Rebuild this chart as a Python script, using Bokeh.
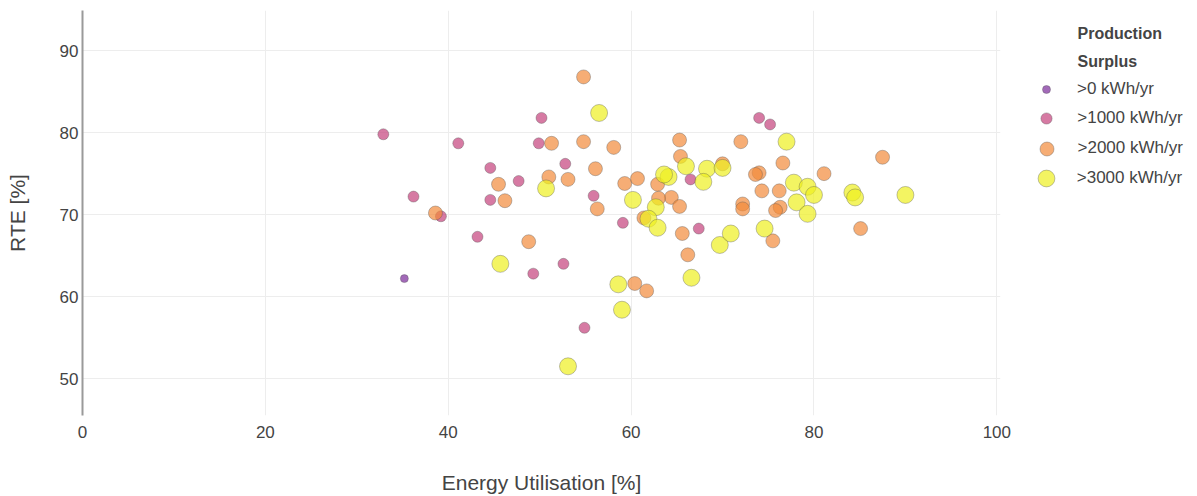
from bokeh.plotting import figure
from bokeh.layouts import row
from bokeh.models import Range1d, FixedTicker, Legend, LegendItem, Label
from bokeh.embed import file_html
from bokeh.resources import INLINE

# Energy utilisation [%] and round-trip efficiency [%] per production-surplus class
surplus_0_util = [35.2]
surplus_0_rte = [62.2]

surplus_1000_util = [32.9, 36.2, 41.1, 39.2, 43.2, 44.6, 44.6, 47.7, 50.2, 49.9,
                     49.3, 52.6, 52.8, 55.9, 59.1, 54.9, 66.5, 67.4, 74.0, 75.2]
surplus_1000_rte = [79.8, 72.2, 78.7, 69.8, 67.3, 75.7, 71.8, 74.1, 81.8, 78.7,
                    62.8, 64.0, 76.2, 72.3, 69.0, 56.2, 74.3, 68.3, 81.8, 81.0]

surplus_2000_util = [38.6, 54.8, 51.3, 54.8, 58.1, 45.5, 46.2, 51.0, 53.1, 56.1,
                     59.3, 60.7, 56.3, 48.8, 60.4, 61.7, 65.3, 72.0, 65.4, 70.0,
                     62.9, 64.4, 65.3, 63.0, 72.2, 72.2, 65.6, 66.2, 61.4, 76.6,
                     74.0, 73.6, 81.1, 87.5, 74.3, 76.2, 76.3, 75.8, 85.1, 75.5]
surplus_2000_rte = [70.2, 86.8, 78.7, 78.9, 78.2, 73.7, 71.7, 74.6, 74.3, 75.6,
                    73.8, 74.4, 70.7, 66.7, 61.6, 60.7, 79.1, 78.9, 77.1, 76.2,
                    73.7, 72.1, 71.0, 72.0, 71.3, 70.7, 67.7, 65.1, 69.6, 76.3,
                    75.1, 74.9, 75.0, 77.0, 72.9, 72.9, 70.9, 70.5, 68.3, 66.8]

surplus_3000_util = [56.5, 50.7, 60.2, 45.7, 58.6, 59.0, 53.1, 64.1, 63.6, 66.0,
                     68.3, 70.0, 67.9, 62.7, 61.9, 62.9, 69.7, 70.9, 66.6, 77.0,
                     77.8, 79.3, 80.0, 78.1, 79.3, 84.2, 84.5, 90.0, 74.6]
surplus_3000_rte = [82.4, 73.2, 71.8, 64.0, 61.5, 58.4, 51.5, 74.6, 74.9, 75.9,
                    75.6, 75.7, 74.0, 70.9, 69.5, 68.4, 66.3, 67.7, 62.3, 78.9,
                    73.9, 73.4, 72.4, 71.5, 70.1, 72.7, 72.1, 72.4, 68.3]

class_labels = [">0 kWh/yr", ">1000 kWh/yr", ">2000 kWh/yr", ">3000 kWh/yr"]
x_ticks = [0, 20, 40, 60, 80, 100]
y_ticks = [50, 60, 70, 80, 90]

series = [
    (surplus_0_util, surplus_0_rte),
    (surplus_1000_util, surplus_1000_rte),
    (surplus_2000_util, surplus_2000_rte),
    (surplus_3000_util, surplus_3000_rte),
]
colors = ["#7a2a9a", "#c4427c", "#f28a3a", "#eef020"]
sizes = [8, 11, 14, 17]

FONT = "Liberation Sans"
TEXT = "#444444"

H = 496
MAIN_W, LEG_W = 1020, 177
LEFT, RIGHT, TOP, BOTTOM = 82, 20, 10, 81
FRAME_BOTTOM = H - BOTTOM           # page y of the plot frame's bottom edge

marker_style = dict(fill_alpha=0.7, line_color="#505050", line_alpha=0.35, line_width=1)

# ---- scatter plot -------------------------------------------------------
p = figure(width=MAIN_W, height=H,
           x_range=Range1d(0, 100.4), y_range=Range1d(45.5, 94.9),
           min_border_left=LEFT, min_border_right=RIGHT,
           min_border_top=TOP, min_border_bottom=BOTTOM,
           output_backend="svg", toolbar_location=None)
p.outline_line_color = None
p.background_fill_color = "white"

for (xs, ys), c, s in zip(series, colors, sizes):
    p.scatter(xs, ys, size=s, fill_color=c, **marker_style)

p.xaxis.ticker = FixedTicker(ticks=x_ticks)
p.yaxis.ticker = FixedTicker(ticks=y_ticks)
p.xgrid.ticker = FixedTicker(ticks=x_ticks)
p.ygrid.ticker = FixedTicker(ticks=y_ticks)
p.xgrid.grid_line_color = "#ededed"
p.ygrid.grid_line_color = "#ededed"

for ax in (p.xaxis[0], p.yaxis[0]):
    ax.major_tick_line_color = None
    ax.minor_tick_line_color = None
    ax.major_tick_out = 0
    ax.major_label_text_font = FONT
    ax.major_label_text_font_size = "17px"
    ax.major_label_text_color = TEXT
    ax.axis_label_text_font = FONT
    ax.axis_label_text_font_size = "21px"
    ax.axis_label_text_font_style = "normal"
    ax.axis_label_text_color = TEXT

p.xaxis.axis_line_color = None
p.xaxis.axis_label = "Energy Utilisation [%]"
p.xaxis.major_label_standoff = 10
p.xaxis.axis_label_standoff = 30

p.yaxis.axis_line_color = "#9a9a9a"
p.yaxis.axis_line_width = 2
p.yaxis.axis_label = "RTE [%]"
p.yaxis.major_label_standoff = 4
p.yaxis.axis_label_standoff = 28

# ---- legend panel -------------------------------------------------------
lg = figure(width=LEG_W, height=H, x_range=Range1d(0, 1), y_range=Range1d(0, 1),
            x_axis_type=None, y_axis_type=None,
            min_border_left=0, min_border_right=0,
            min_border_top=TOP, min_border_bottom=BOTTOM,
            output_backend="svg", toolbar_location=None)
lg.outline_line_color = None
lg.xgrid.visible = False
lg.ygrid.visible = False

x0_page = MAIN_W                    # page x where the legend panel starts
label_x = 1077 - x0_page
for txt, cy in (("Production", 33), ("Surplus", 61)):
    lg.add_layout(Label(x=label_x, y=FRAME_BOTTOM - cy, x_units="screen", y_units="screen",
                        text=txt, text_font=FONT, text_font_size="16px",
                        text_font_style="bold", text_color=TEXT,
                        text_baseline="middle", text_align="left"))

# one legend per class so each key marker keeps its own size;
# the key renderers are hidden and only feed the legend glyphs
centers_y = [89, 118, 148, 178]
marker_cx = 1046
for (xs, ys), lab, c, s, cy in zip(series, class_labels, colors, sizes, centers_y):
    key = lg.scatter(xs, ys, size=s, fill_color=c, visible=False, **marker_style)
    g = s / 0.4
    leg = Legend(items=[LegendItem(label=lab, renderers=[key])],
                 glyph_width=int(round(g)), glyph_height=int(round(g)),
                 label_height=int(round(g)),
                 label_standoff=int(round(1077 - marker_cx - g / 2)),
                 padding=0, margin=0, spacing=0,
                 border_line_color=None, background_fill_alpha=0,
                 label_text_font=FONT, label_text_font_size="17px",
                 label_text_color=TEXT)
    left = marker_cx - g / 2
    top = cy - g / 2
    leg.location = (left - x0_page, FRAME_BOTTOM - (top + g))
    lg.add_layout(leg, "center")

open("out.html", "w").write(file_html(row(p, lg), INLINE))
